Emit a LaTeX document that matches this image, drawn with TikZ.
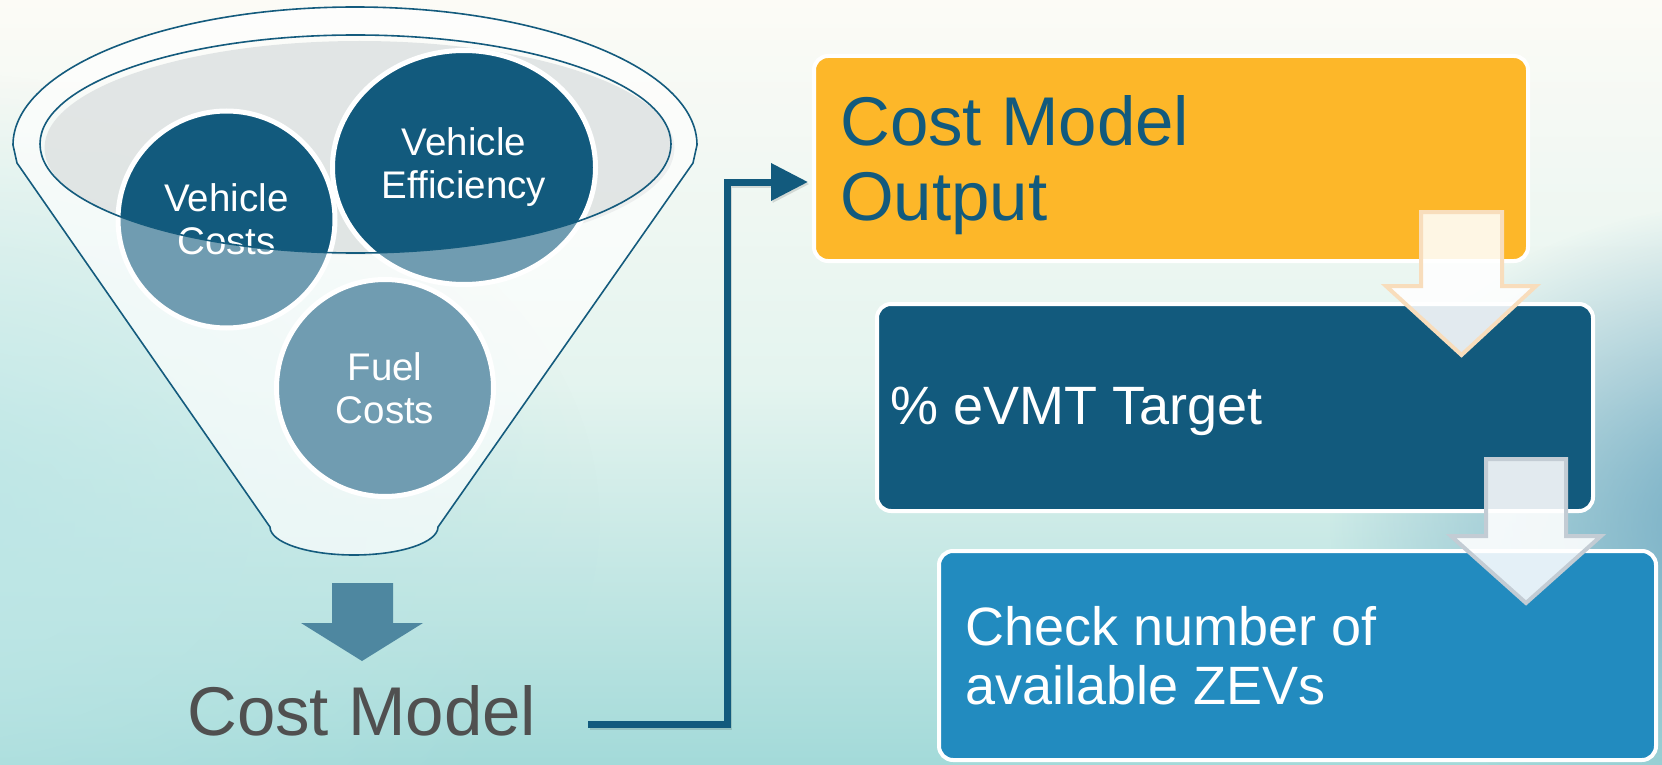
\documentclass[tikz,border=0pt]{standalone}
\usepackage{fontspec}
\setmainfont{Liberation Sans}
\usetikzlibrary{arrows.meta,shapes.geometric,fadings}
\definecolor{navy}{HTML}{125A7D}
\definecolor{funnelline}{HTML}{145B7D}
\definecolor{orng}{HTML}{FDB729}
\definecolor{midblue}{HTML}{228BBF}
\definecolor{arrowblue}{HTML}{4E87A0}
\definecolor{graytext}{HTML}{505050}
\definecolor{rimgray}{HTML}{DFE3E3}
\definecolor{bgtop}{HTML}{FCFBF6}
\definecolor{bgmid}{HTML}{E4F4EF}
\definecolor{bgbot}{HTML}{A3DAD9}
\definecolor{bgleft}{HTML}{BCE6E6}
\definecolor{bgright}{HTML}{6AA5C0}
\definecolor{peach}{HTML}{F8DDBC}
\definecolor{steel}{HTML}{C3CCD4}
\tikzfading[name=softglow, inner color=transparent!0, outer color=transparent!100]
\begin{document}
\begin{tikzpicture}[x=1pt,y=-1pt,
  circ/.style={circle, draw=white, line width=5pt, fill=navy, text=white, align=center,
    font=\fontsize{38.5}{43}\selectfont, inner sep=0pt},
  box/.style={rectangle, rounded corners=14pt, draw=white, line width=4pt, inner sep=0pt},
  boxtext/.style={anchor=base west, inner sep=0pt, align=left},
  conn/.style={draw=navy, line width=7pt, line join=miter, -{Triangle[length=37pt,width=36pt]}},
  blockarrow/.style={fill=white, fill opacity=0.88, line width=4pt, line join=miter},
  fline/.style={draw=funnelline, line width=1.6pt}
]
\useasboundingbox (0,0) rectangle (1662,765);
% background
\shade[top color=bgtop, bottom color=bgbot, middle color=bgmid] (0,0) rectangle (1662,765);
\fill[bgleft, path fading=softglow] (-100,520) ellipse [x radius=700, y radius=450];
\fill[bgright, path fading=softglow] (1780,520) ellipse [x radius=450, y radius=320];

% funnel base
\fill[white, fill opacity=0.45] (17,163) -- (13,145) arc[start angle=180, end angle=360, x radius=342, y radius=138]
  -- (693,163) -- (438,527) arc[start angle=0, end angle=180, x radius=84, y radius=28] -- cycle;
\fill[rimgray, opacity=0.9] (359.5,148) ellipse [x radius=315, y radius=107];

% circles
\node[circ, minimum size=217pt] (vc) at (226.5,219.5) {Vehicle\\Costs};
\node[circ, minimum size=217pt] (fc) at (385,388) {Fuel\\Costs};
\node[circ, ellipse, minimum width=263pt, minimum height=234pt] (ve) at (464,167.5) {Vehicle\\Efficiency};

% funnel front (translucent)
\fill[white, fill opacity=0.4, even odd rule] (17,163) -- (13,145) arc[start angle=180, end angle=360, x radius=342, y radius=138]
  -- (693,163) -- (438,527) arc[start angle=0, end angle=180, x radius=84, y radius=28] -- cycle
  (355.5,144) ellipse [x radius=315.5, y radius=109];
\draw[fline] (17,163) -- (13,145) arc[start angle=180, end angle=360, x radius=342, y radius=138]
  -- (693,163) -- (438,527) arc[start angle=0, end angle=180, x radius=84, y radius=28] -- cycle;
\draw[fline] (355.5,144) ellipse [x radius=315.5, y radius=109];

% down arrow
\fill[arrowblue] (332,583) -- (393,583) -- (393,623) -- (423,623) -- (362,661) -- (301,623) -- (332,623) -- cycle;
\node[anchor=base west, inner sep=0pt, text=graytext, font=\fontsize{69}{75}\selectfont] (cm) at (187,735) {Cost Model};

% boxes
\node[box, fill=orng, minimum width=714pt, minimum height=205pt] (box1) at (1171,158.5) {};
\node[box, fill=navy, minimum width=716pt, minimum height=207pt] (box2) at (1235,407.5) {};
\node[box, fill=midblue, minimum width=717pt, minimum height=209pt] (box3) at (1297.5,655.5) {};

% connector (with faint shadow)
\coordinate (bend) at (727,182);
\draw[conn, draw=black, draw opacity=0.12, fill opacity=0.12, shorten >=4pt, transform canvas={shift={(1.5pt,-2pt)}}]
  ([xshift=52pt,yshift=11pt]cm.base east) -| (bend) -- (bend -| box1.west);
\draw[conn, shorten >=4pt] ([xshift=52pt,yshift=11pt]cm.base east) -| (bend) -- (bend -| box1.west);

% box texts
\node[boxtext, text=navy, font=\fontsize{69}{75}\selectfont] (t1) at (840,220) {Cost Model\\Output};
\node[boxtext, text=white, font=\fontsize{54}{59}\selectfont] (t2) at (890,424) {\% eVMT Target};
\node[boxtext, text=white, font=\fontsize{54}{59}\selectfont] (t3) at (965,704) {Check number of\\available ZEVs};

% block arrows between boxes
\draw[blockarrow, draw=peach] (1421,212) -- (1502,212) -- (1502,286) -- (1536,286) -- (1461.5,355) -- (1386,286) -- (1421,286) -- cycle;
\draw[blockarrow, draw=steel] (1486,459) -- (1566,459) -- (1566,536) -- (1601,536) -- (1526,603) -- (1451,536) -- (1486,536) -- cycle;
\end{tikzpicture}
\end{document}
